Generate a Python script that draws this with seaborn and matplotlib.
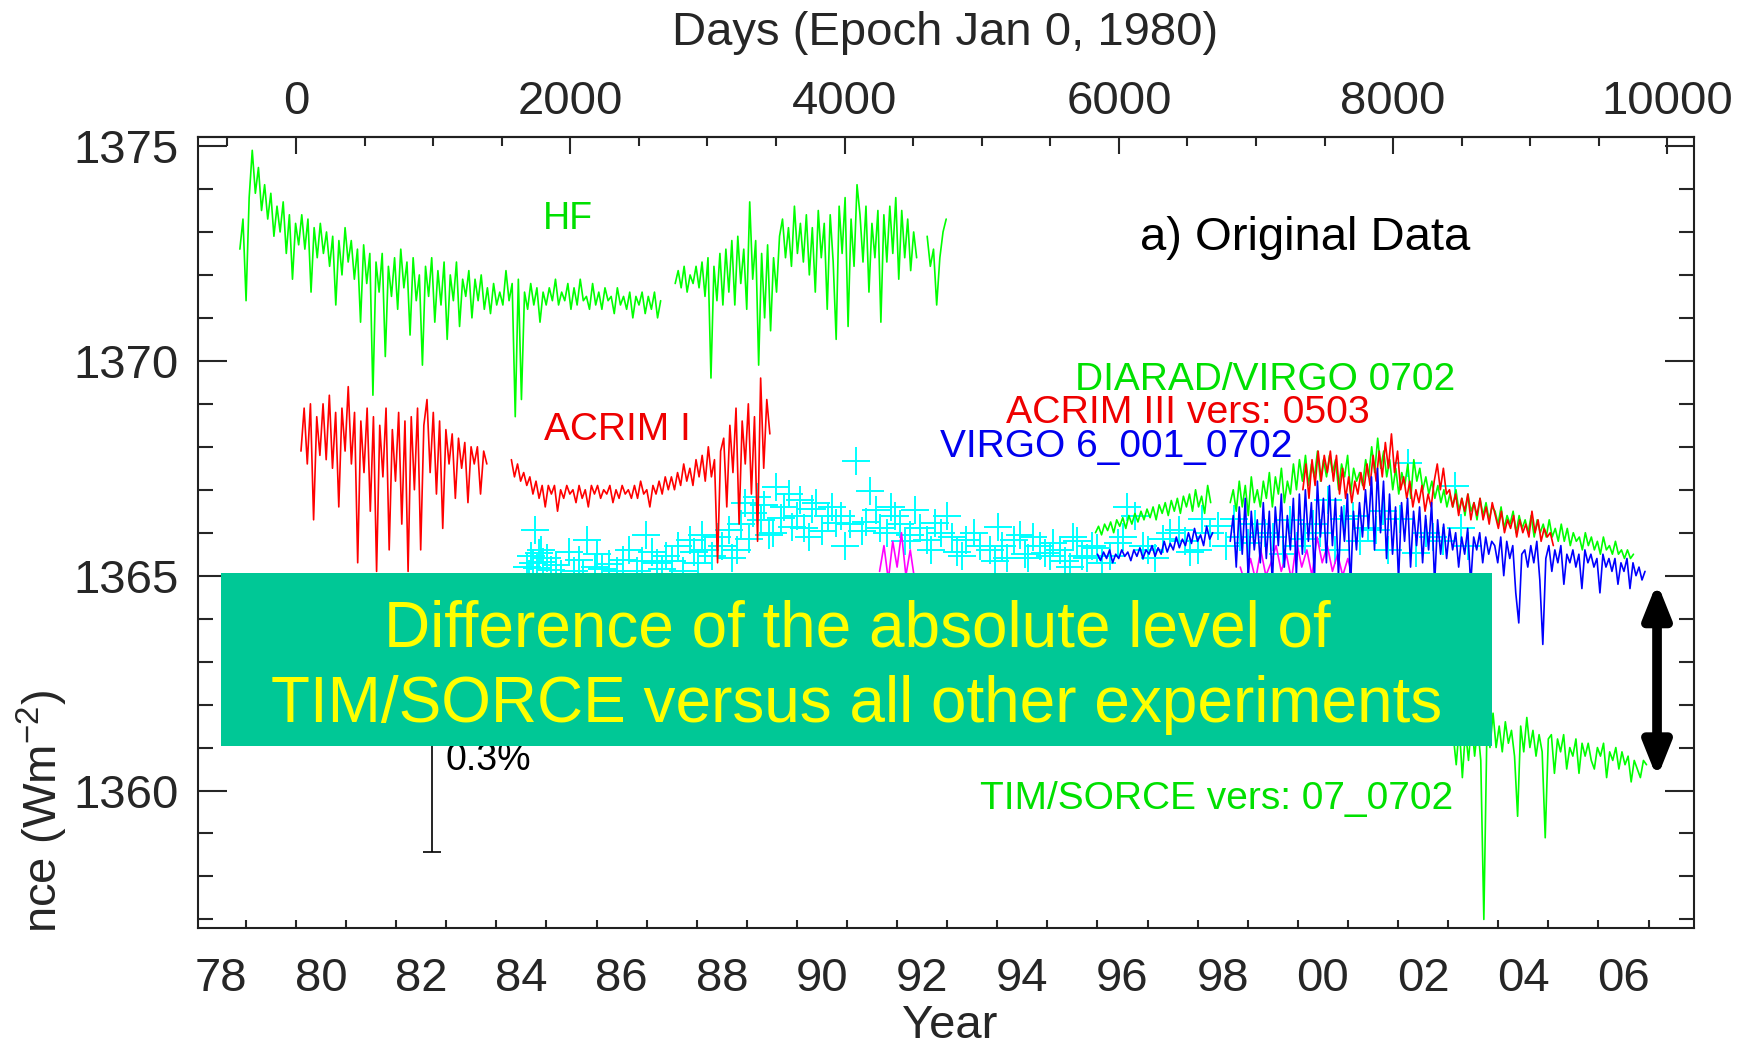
import numpy as np
import matplotlib
matplotlib.use("Agg")
import matplotlib.pyplot as plt
import seaborn as sns
from matplotlib.ticker import FixedLocator, FixedFormatter, NullFormatter
from matplotlib.patches import Rectangle

# ------------------------------------------------------------------ data
# HF (Nimbus-7) : three segments (start year, end year) and readings
hf_spans = [(1978.88, 1987.28), (1987.57, 1992.39), (1992.60, 1992.98)]
hf_seg1 = [1372.6, 1373.3, 1371.4,
           1373.8, 1374.9, 1373.9, 1374.5, 1373.5,
           1374.1, 1373.3, 1373.9, 1372.9, 1373.6,
           1373.0, 1373.7, 1372.5, 1373.4, 1371.9, 1373.2, 1372.7,
           1373.4, 1372.6, 1373.3, 1371.6, 1373.1, 1372.4, 1373.2, 1372.5,
           1373.0, 1372.2, 1372.9, 1371.3, 1372.8, 1372.0, 1373.1, 1372.3,
           1372.8, 1371.9, 1372.6, 1370.9, 1372.7, 1371.8, 1372.5, 1369.2,
           1372.3, 1371.6, 1372.5, 1370.1, 1372.2, 1371.5, 1372.4, 1371.2,
           1372.6, 1371.7, 1372.3, 1370.6, 1372.4, 1371.4, 1372.0, 1369.9,
           1372.2, 1371.5, 1372.4, 1370.9, 1372.1, 1371.3, 1372.3, 1370.5,
           1372.0, 1371.4, 1372.3, 1370.8, 1371.9, 1371.5, 1372.1, 1371.0,
           1371.9, 1371.4, 1372.0, 1371.2, 1371.7, 1371.1, 1371.8, 1371.3,
           1371.6, 1371.3, 1372.1, 1371.4, 1371.8, 1368.7, 1371.9, 1369.1,
           1371.6, 1371.2, 1371.8, 1371.3, 1371.7, 1370.9, 1371.6, 1371.3,
           1371.7, 1371.4, 1371.9, 1371.3, 1371.6, 1371.4, 1371.8, 1371.2,
           1371.7, 1371.3, 1371.9, 1371.4, 1371.5, 1371.2, 1371.8, 1371.3,
           1371.6, 1371.2, 1371.7, 1371.4, 1371.5, 1371.1, 1371.7, 1371.3,
           1371.5, 1371.2, 1371.6, 1371.0, 1371.5, 1371.3, 1371.6, 1371.1,
           1371.5, 1371.2, 1371.6, 1371.0, 1371.4]
hf_seg2 = [1371.8, 1372.1, 1371.7, 1372.2, 1371.6, 1372.0, 1371.8, 1372.2, 1371.7,
           1372.3, 1371.5, 1372.4, 1369.6, 1372.2, 1371.4, 1372.5, 1371.3, 1372.6, 1371.6,
           1372.8, 1371.3, 1372.9, 1371.8, 1372.6, 1371.2, 1373.7, 1371.9, 1372.8, 1369.9,
           1372.5, 1371.0, 1372.7, 1370.7, 1372.4, 1371.6, 1372.9,
           1373.3, 1372.4, 1373.1, 1372.2, 1373.6, 1372.5, 1373.2, 1372.3, 1373.4, 1372.0, 1373.1, 1371.6,
           1373.5, 1372.4, 1373.2, 1371.2, 1373.4, 1372.3, 1370.5,
           1373.6, 1372.5, 1373.8, 1370.8, 1373.3, 1372.2, 1374.1,
           1373.4, 1372.3, 1373.6, 1371.6, 1373.2, 1372.4, 1373.5, 1370.9,
           1373.4, 1372.3, 1373.6, 1372.5, 1373.8, 1371.9, 1373.5, 1372.4, 1373.3, 1372.1, 1373.0, 1372.4]
hf_seg3 = [1372.9, 1372.2, 1372.6, 1371.3, 1372.4, 1373.0, 1373.3]

# ACRIM I (SMM)
acrim1_spans = [(1980.10, 1983.81), (1984.30, 1989.46)]
acrim1_seg1 = [1367.9, 1368.9, 1367.6, 1369.0, 1366.3, 1368.7, 1367.8,
               1369.0, 1367.7, 1369.2, 1367.5, 1368.8, 1366.6, 1368.9, 1367.9,
               1369.4, 1367.6, 1368.8, 1365.3, 1368.6, 1367.4, 1368.9, 1366.5,
               1368.7, 1365.1, 1368.5, 1367.3, 1368.9, 1365.6, 1368.4, 1367.2,
               1368.8, 1366.2, 1368.6, 1365.1, 1368.7, 1367.0, 1368.9, 1365.6,
               1368.5, 1369.1, 1367.4, 1368.8, 1366.9, 1368.6, 1366.1, 1368.4,
               1367.6, 1368.3, 1366.8, 1368.2, 1367.5, 1368.1, 1366.7, 1368.0,
               1367.6, 1368.0, 1366.9, 1367.9, 1367.6]
acrim1_seg2 = [1367.7, 1367.3, 1367.6, 1367.2, 1367.4, 1367.1,
               1367.3, 1366.9, 1367.2, 1366.8, 1367.1, 1366.6, 1367.1, 1366.9,
               1367.1, 1366.5, 1367.0, 1366.8, 1367.1, 1366.9, 1367.0, 1366.7, 1367.1, 1366.8, 1367.0, 1366.6, 1367.1,
               1366.9, 1367.1, 1366.8, 1367.0, 1366.9, 1367.1, 1366.7, 1367.0, 1366.8, 1367.1, 1366.9, 1367.0, 1366.8,
               1367.1, 1366.8, 1367.2, 1366.9, 1367.0, 1366.6, 1367.1, 1366.9, 1367.2, 1366.9, 1367.3, 1367.0,
               1367.3, 1367.0, 1367.4, 1367.1, 1367.6, 1367.2, 1367.5, 1367.1, 1367.7, 1367.3,
               1367.8, 1367.2, 1368.0, 1367.3, 1367.7, 1365.3, 1367.9,
               1368.2, 1366.6, 1368.5, 1367.4, 1368.9, 1366.2, 1368.6, 1367.6,
               1369.0, 1366.9, 1368.7, 1365.8, 1369.6, 1367.5, 1369.1, 1368.3]

# ERBS (crosses)
erbs_year = [1984.62, 1984.70, 1984.78, 1984.82, 1984.86, 1984.94, 1985.10, 1985.30, 1985.65, 1985.81,
             1985.96, 1986.10, 1986.52, 1986.80, 1986.99, 1987.20, 1987.38, 1987.62, 1987.86, 1988.02,
             1988.17, 1988.41, 1988.65, 1988.80, 1988.96, 1989.05, 1989.20, 1989.28, 1989.45, 1989.59,
             1989.75, 1989.91, 1990.07, 1990.25, 1990.38, 1990.62, 1990.78, 1990.95, 1991.17, 1991.30,
             1991.45, 1991.57, 1991.80, 1991.96, 1992.15, 1992.35, 1992.59, 1992.75, 1992.99, 1993.20,
             1993.38, 1993.54, 1993.85, 1994.01, 1994.20, 1994.33, 1994.55, 1994.72, 1994.96, 1995.12,
             1995.35, 1995.51, 1995.70, 1995.90, 1996.10, 1996.40, 1996.59, 1996.75, 1997.00, 1997.30,
             1997.62, 1997.85, 1998.09, 1998.41, 1998.56, 1998.72, 1999.00, 1999.35, 1999.70, 1999.98,
             2000.30, 2000.60, 2000.93, 2001.25, 2001.56, 2001.80, 2002.03, 2002.19, 2002.35, 2002.70,
             2003.14, 2003.40]
erbs_value = [1365.20, 1365.45, 1366.07, 1365.18, 1365.52, 1365.33, 1365.14, 1365.05, 1365.37, 1365.83,
              1365.21, 1365.15, 1365.37, 1365.10, 1365.95, 1365.30, 1365.45, 1365.68, 1365.83, 1365.29,
              1365.60, 1365.91, 1366.07, 1365.60, 1366.69, 1365.85, 1366.84, 1366.30, 1365.95, 1367.07,
              1366.61, 1366.14, 1366.76, 1365.90, 1366.69, 1366.38, 1366.22, 1365.70, 1367.66, 1366.05,
              1366.96, 1366.53, 1365.99, 1366.38, 1365.80, 1366.53, 1365.83, 1366.22, 1366.38, 1365.55,
              1365.83, 1365.99, 1365.60, 1366.14, 1365.40, 1365.83, 1365.50, 1365.91, 1365.52, 1365.76,
              1365.35, 1365.91, 1365.45, 1365.68, 1365.30, 1365.75, 1366.61, 1366.38, 1365.60, 1365.85,
              1366.07, 1365.55, 1366.31, 1366.15, 1365.69, 1366.31, 1365.75, 1366.00, 1365.50, 1365.69,
              1366.20, 1366.77, 1366.31, 1365.80, 1366.07, 1365.60, 1366.31, 1367.62, 1365.53, 1365.90,
              1367.08, 1365.70]
erbs_more_year = [1984.66, 1984.74, 1984.90, 1985.02, 1985.20, 1985.45, 1985.55, 1985.72, 1986.00, 1986.25,
                  1986.40, 1986.65, 1986.90, 1987.10, 1987.30, 1987.50, 1987.72, 1987.95, 1988.10, 1988.30,
                  1988.50, 1988.70, 1988.88, 1989.12, 1989.35, 1989.52, 1989.68, 1989.85, 1990.00, 1990.15,
                  1990.30, 1990.50, 1990.70, 1990.88, 1991.05, 1991.38, 1991.65, 1991.88, 1992.05, 1992.25,
                  1992.45, 1992.68, 1992.88, 1993.10, 1993.30, 1993.65, 1993.95, 1994.10, 1994.45, 1994.62,
                  1994.85, 1995.05, 1995.25, 1995.45, 1995.60, 1995.80, 1996.00, 1996.25, 1996.50, 1996.90,
                  1997.15, 1997.45, 1997.75, 1998.00, 1998.25, 1998.85, 1999.15, 1999.50, 1999.85, 2000.15,
                  2000.45, 2000.75, 2001.10, 2001.40, 2001.70, 2002.55, 2002.90, 2003.25]
erbs_more_value = [1365.05, 1365.30, 1365.60, 1365.40, 1365.25, 1365.55, 1365.12, 1365.05, 1365.50, 1365.28,
                   1365.10, 1365.60, 1365.35, 1365.55, 1365.15, 1365.35, 1365.10, 1365.55, 1365.95, 1365.45,
                   1365.70, 1365.40, 1366.20, 1366.45, 1366.65, 1366.00, 1366.35, 1366.90, 1366.40, 1366.10,
                   1366.55, 1366.05, 1366.60, 1366.40, 1366.20, 1366.25, 1366.10, 1366.60, 1366.20, 1365.95,
                   1366.10, 1365.60, 1366.00, 1365.90, 1365.45, 1365.70, 1365.35, 1365.70, 1365.95, 1365.40,
                   1365.70, 1365.45, 1365.60, 1365.20, 1365.80, 1365.40, 1365.65, 1365.45, 1365.90, 1365.70,
                   1365.40, 1366.00, 1365.80, 1365.60, 1366.00, 1365.90, 1366.20, 1365.90, 1366.30, 1365.85,
                   1366.00, 1365.60, 1366.40, 1366.10, 1366.50, 1366.00, 1365.80, 1366.10]

# ACRIM II (magenta) - parts visible above the box
acrim2_spans = [(1991.65, 1992.35), (1998.85, 2001.10)]
acrim2_seg1 = [1365.1, 1365.7, 1364.9, 1365.8, 1365.2, 1366.0, 1365.0, 1365.6, 1364.9]
acrim2_seg2 = [1365.2, 1364.8, 1365.4, 1364.9, 1365.6, 1365.0, 1365.3, 1365.7, 1365.1, 1365.5, 1364.9,
               1365.8, 1365.2, 1365.6, 1365.0, 1365.9, 1365.3, 1365.7, 1365.1, 1365.5, 1365.0, 1365.4, 1364.9]

# DIARAD/VIRGO 0702
diarad_spans = [(1995.96, 1998.26), (1998.65, 2006.70)]
diarad_seg1 = [1366.0, 1366.15, 1365.95, 1366.2, 1366.05, 1366.25, 1366.0, 1366.3, 1366.15, 1366.35,
               1366.1, 1366.4, 1366.2, 1366.45, 1366.25, 1366.5, 1366.3, 1366.55, 1366.35, 1366.6,
               1366.3, 1366.65, 1366.45, 1366.7, 1366.4, 1366.75, 1366.5, 1366.8, 1366.45, 1366.85,
               1366.6, 1366.9, 1366.5, 1367.0, 1366.6, 1366.85, 1366.45, 1367.1, 1366.7]
diarad_seg2 = [1366.7, 1367.0, 1366.5, 1367.2, 1366.6, 1367.1, 1366.4, 1367.3, 1366.7, 1367.0, 1366.6,
               1367.2, 1366.8, 1367.4, 1366.6, 1367.3, 1366.9, 1367.5, 1366.7, 1367.2, 1366.9, 1367.6, 1367.0,
               1367.7, 1367.2, 1367.8, 1367.1, 1367.6, 1367.3, 1367.9, 1367.2, 1367.7, 1367.3,
               1367.8, 1367.4, 1367.7, 1367.0, 1367.6, 1367.3, 1367.8, 1366.9, 1367.5, 1367.2,
               1367.4, 1367.1, 1367.7, 1367.3, 1368.0, 1367.4, 1368.2, 1367.5, 1367.9, 1367.3,
               1367.7, 1367.0, 1367.5, 1366.9, 1367.4, 1367.1, 1367.6, 1366.8, 1367.7, 1367.2,
               1367.5, 1367.0, 1367.3, 1366.9, 1367.2, 1366.8, 1367.1, 1366.7, 1367.0, 1366.6,
               1366.9, 1366.6, 1367.0, 1366.5, 1366.8, 1366.4, 1366.9, 1366.5, 1366.7, 1366.3, 1366.8, 1366.4, 1366.7, 1366.3, 1366.6,
               1366.5, 1366.2, 1366.6, 1366.1, 1366.4, 1366.2, 1366.5, 1366.0, 1366.4, 1366.1,
               1366.3, 1366.0, 1366.4, 1365.9, 1366.3, 1366.0, 1366.2, 1365.9, 1366.3, 1365.9,
               1366.1, 1365.8, 1366.2, 1365.8, 1366.1, 1365.7, 1366.0, 1365.8, 1365.9, 1365.6, 1366.0, 1365.7, 1365.9, 1365.6,
               1365.8, 1365.5, 1365.9, 1365.6, 1365.7, 1365.5, 1365.8, 1365.5, 1365.6, 1365.4, 1365.6, 1365.4, 1365.5]

# ACRIM III vers: 0503
acrim3_spans = [(2000.10, 2005.10)]
acrim3_seg1 = [1367.0, 1367.6, 1366.8, 1367.7, 1367.1, 1367.9, 1367.2, 1367.8,
               1367.4, 1367.9, 1367.2, 1367.8, 1366.9, 1367.5, 1366.8, 1367.3, 1366.7, 1367.2,
               1366.9, 1367.4, 1367.0, 1367.6, 1367.1, 1367.8, 1367.2,
               1367.9, 1367.3, 1368.1, 1367.5, 1368.3, 1367.4, 1367.9, 1367.0,
               1367.3, 1366.8, 1367.2, 1366.6, 1367.0, 1366.7, 1367.1, 1366.5, 1366.9, 1366.6,
               1367.2, 1367.6, 1367.0, 1367.5, 1366.9,
               1367.0, 1366.6, 1366.9, 1366.4, 1366.8, 1366.5, 1366.9, 1366.3, 1366.7, 1366.4, 1366.8, 1366.3, 1366.6, 1366.2, 1366.7,
               1366.4, 1366.1, 1366.5, 1366.0, 1366.3, 1366.1, 1366.4, 1365.9, 1366.3, 1366.0,
               1366.2, 1365.9, 1366.5, 1366.0, 1366.3, 1365.8, 1366.1, 1365.9, 1366.0, 1365.7]

# VIRGO 6_001_0702
virgo_spans = [(1996.00, 1998.30), (1998.65, 2006.93)]
virgo_seg1 = [1365.5, 1365.35, 1365.55, 1365.4, 1365.6, 1365.3, 1365.5, 1365.4, 1365.6, 1365.45,
              1365.55, 1365.35, 1365.6, 1365.45, 1365.65, 1365.4, 1365.6, 1365.5, 1365.7, 1365.45,
              1365.65, 1365.5, 1365.8, 1365.55, 1365.75, 1365.6, 1365.9, 1365.65, 1365.85, 1365.7,
              1366.0, 1365.75, 1366.1, 1365.8, 1365.95, 1365.7, 1366.15, 1365.85, 1366.0]
virgo_seg2 = [1365.8, 1366.4, 1365.2, 1366.6, 1365.5, 1366.8, 1364.9, 1366.5, 1365.6, 1366.3, 1365.3,
              1366.7, 1365.4, 1366.5, 1364.8, 1366.6, 1365.7, 1366.9, 1365.2, 1366.4, 1365.6, 1366.8, 1365.0,
              1366.9, 1365.5, 1367.0, 1365.8, 1366.7, 1364.9, 1367.2, 1365.9, 1366.8, 1365.3,
              1367.1, 1365.7, 1366.8, 1365.0, 1366.6, 1365.8, 1366.9, 1364.7, 1366.5, 1365.6,
              1366.7, 1365.9, 1367.0, 1366.1, 1367.3, 1365.6, 1367.5, 1366.0, 1367.2, 1365.4,
              1366.9, 1365.5, 1366.6, 1364.9, 1366.7, 1365.8, 1366.8, 1365.2, 1366.5, 1365.7,
              1366.6, 1365.3, 1366.4, 1365.6, 1366.7, 1364.8, 1366.3, 1365.5, 1366.2, 1365.4,
              1366.1, 1365.6, 1366.0, 1365.2, 1365.9, 1365.5, 1366.1, 1364.8, 1365.9, 1365.6, 1366.0, 1365.3, 1365.9, 1365.5, 1365.8,
              1365.7, 1365.3, 1365.9, 1365.0, 1365.8, 1365.4, 1365.7, 1364.6, 1363.9, 1365.5,
              1365.6, 1365.2, 1365.7, 1365.3, 1365.8, 1364.9, 1363.4, 1365.4, 1365.7, 1365.1,
              1365.6, 1365.3, 1365.7, 1364.8, 1365.5, 1365.3, 1365.6, 1365.2, 1365.5, 1364.7, 1365.6, 1365.3, 1365.5, 1365.2,
              1365.4, 1364.6, 1365.5, 1365.2, 1365.4, 1365.1, 1365.4, 1364.8, 1365.3, 1365.1, 1365.4, 1364.7, 1365.3, 1365.0,
              1365.2, 1364.9, 1365.1]

# TIM/SORCE vers: 07_0702
tim_spans = [(2003.10, 2006.96)]
tim_seg1 = [1361.3, 1360.6, 1361.5, 1360.3, 1361.4, 1360.7, 1361.6, 1360.8, 1361.5, 1360.7, 1357.0, 1361.4, 1361.0,
            1361.8, 1361.0, 1361.5, 1360.9, 1361.6, 1361.1, 1361.4, 1360.8, 1359.4,
            1361.5, 1360.9, 1361.7, 1361.0, 1361.4, 1360.8, 1361.3, 1360.9, 1358.9, 1361.2, 1361.3,
            1360.4, 1361.2, 1360.9, 1361.3, 1360.5, 1361.0, 1360.8, 1361.2, 1360.4, 1361.1, 1360.8,
            1361.1, 1360.7, 1360.5, 1361.0, 1360.8, 1361.1, 1360.3, 1360.9, 1360.7, 1361.0, 1360.5,
            1360.9, 1360.6, 1360.8, 1360.2, 1360.7, 1360.5, 1360.3, 1360.7, 1360.6]

# scale bar (0.3 % of the solar constant)
scale_year = 1982.71
scale_bottom = 1358.58
scale_fraction = 0.003
scale_reference = 1365.0

# offset arrow between TIM and the other instruments
arrow_year = 2007.17
arrow_top = 1364.84
arrow_bottom = 1360.29

# axes / ticks
year_range = (1978.05, 2007.90)
irr_range = (1356.80, 1375.21)
irr_major = [1360, 1365, 1370, 1375]
irr_minor = list(range(1357, 1375))
year_ticks = list(range(1979, 2008))
year_label_pos = [1978.5, 1980.5, 1982.5, 1984.5, 1986.5, 1988.5, 1990.5, 1992.5,
                  1994.5, 1996.5, 1998.5, 2000.5, 2002.5, 2004.5, 2006.5]
year_labels = ["78", "80", "82", "84", "86", "88", "90", "92", "94", "96", "98", "00", "02", "04", "06"]
day_major = [0, 2000, 4000, 6000, 8000, 10000]
day_minor = list(range(-500, 10001, 500))
DAYS_PER_YEAR = 365.25
EPOCH_YEAR = 1980.0

# ------------------------------------------------------------------ style
sns.set_style("white")
plt.rcParams["font.family"] = ["Liberation Sans", "DejaVu Sans"]
plt.rcParams["mathtext.fontset"] = "custom"
plt.rcParams["mathtext.rm"] = "Liberation Sans"
plt.rcParams["mathtext.it"] = "Liberation Sans:italic"
plt.rcParams["mathtext.bf"] = "Liberation Sans:bold"

W, H = 1747, 1049
fig = plt.figure(figsize=(W / 100, H / 100), dpi=100, facecolor="white")
ax = fig.add_axes([198.3 / W, 1 - 928 / H, (1693.6 - 198.3) / W, (928 - 137) / H])
ax.set_facecolor("white")

GREEN, RED, BLUE, CYAN, MAGENTA = "#00FF00", "#FF0000", "#0000FF", "#00FFFF", "#FF00FF"


def draw(spans, segs, color, lw=1.2, z=3):
    for (a, b), vals in zip(spans, segs):
        xs = np.linspace(a, b, len(vals))
        sns.lineplot(x=xs, y=vals, color=color, linewidth=lw, ax=ax,
                     estimator=None, sort=False, legend=False, zorder=z)


sns.scatterplot(x=erbs_year + erbs_more_year, y=erbs_value + erbs_more_value, marker="+", s=380,
                color=CYAN, linewidth=1.4, ax=ax, legend=False, zorder=2)
draw(hf_spans, [hf_seg1, hf_seg2, hf_seg3], GREEN, z=3)
draw(acrim1_spans, [acrim1_seg1, acrim1_seg2], RED, z=3)
draw(acrim2_spans, [acrim2_seg1, acrim2_seg2], MAGENTA, z=3)
draw(diarad_spans, [diarad_seg1, diarad_seg2], GREEN, z=4)
draw(acrim3_spans, [acrim3_seg1], RED, z=5)
draw(virgo_spans, [virgo_seg1, virgo_seg2], BLUE, z=6)
draw(tim_spans, [tim_seg1], GREEN, z=4)

# scale bar
scale_top = scale_bottom + scale_fraction * scale_reference
ax.errorbar([scale_year], [(scale_top + scale_bottom) / 2], yerr=[(scale_top - scale_bottom) / 2],
            fmt="none", ecolor="black", elinewidth=1.2, capsize=6.5, capthick=1.2, zorder=7)
ax.text(scale_year + 0.28, 1360.72, "0.3%", fontsize=27, color="black", va="center", ha="left")

# series labels
ax.text(1985.43, 1373.30, "HF", color="#00E000", fontsize=27, ha="center", va="center")
ax.text(1986.41, 1368.40, "ACRIM I", color="#EE0000", fontsize=28, ha="center", va="center")
ax.text(2000.15, 1372.86, "a) Original Data", color="black", fontsize=34, ha="center", va="center")
ax.text(1999.35, 1369.56, "DIARAD/VIRGO 0702", color="#00E000", fontsize=28, ha="center", va="center")
ax.text(1997.80, 1368.78, "ACRIM III vers: 0503", color="#EE0000", fontsize=28.3, ha="center", va="center")
ax.text(1996.37, 1368.00, "VIRGO 6_001_0702", color="#0000EE", fontsize=28, ha="center", va="center")
ax.text(1998.37, 1359.80, "TIM/SORCE vers: 07_0702", color="#00E000", fontsize=28, ha="center", va="center")

# highlighted box
ax.add_patch(Rectangle((221 / W, 1 - 746 / H), (1492 - 221) / W, (746 - 573) / H,
                       transform=fig.transFigure, facecolor="#00C896", edgecolor="none",
                       zorder=20, clip_on=False))
ax.text(857 / W, 1 - 667 / H,
        "Difference of the absolute level of\nTIM/SORCE versus all other experiments",
        transform=fig.transFigure, color="#FFFF00", fontsize=46, ha="center", va="center",
        multialignment="center", linespacing=1.33, zorder=21)

# double arrow
ax.annotate("", xy=(arrow_year, arrow_top), xytext=(arrow_year, arrow_bottom),
            arrowprops=dict(arrowstyle="<|-|>,head_length=2.0,head_width=0.8", color="black",
                            lw=7, shrinkA=0, shrinkB=0, mutation_scale=10), zorder=22)

# axes limits and ticks
ax.set_xlim(*year_range)
ax.set_ylim(*irr_range)
ax.set_xlabel("")
ax.set_ylabel("")
for s in ax.spines.values():
    s.set_linewidth(1.5)
    s.set_color("#202020")

ax.yaxis.set_major_locator(FixedLocator(irr_major))
ax.yaxis.set_minor_locator(FixedLocator(irr_minor))
ax.yaxis.set_minor_formatter(NullFormatter())
ax.set_yticklabels([str(v) for v in irr_major])
ax.tick_params(axis="y", which="major", direction="in", length=21, width=1.5,
               left=True, right=True, labelsize=34, pad=14)
ax.tick_params(axis="y", which="minor", direction="in", length=11, width=1.5, left=True, right=True)

ax.xaxis.set_major_locator(FixedLocator(year_ticks))
ax.xaxis.set_major_formatter(NullFormatter())
ax.xaxis.set_minor_locator(FixedLocator(year_label_pos))
ax.xaxis.set_minor_formatter(FixedFormatter(year_labels))
ax.tick_params(axis="x", which="major", direction="in", length=6, width=1.5, bottom=True, top=False)
ax.tick_params(axis="x", which="minor", direction="in", length=0, bottom=True, top=False,
               labelsize=34, pad=21)

secax = ax.secondary_xaxis("top", functions=(lambda y: (y - EPOCH_YEAR) * DAYS_PER_YEAR,
                                             lambda d: d / DAYS_PER_YEAR + EPOCH_YEAR))
secax.xaxis.set_major_locator(FixedLocator(day_major))
secax.xaxis.set_minor_locator(FixedLocator(day_minor))
secax.xaxis.set_major_formatter(FixedFormatter([str(d) for d in day_major]))
secax.xaxis.set_minor_formatter(NullFormatter())
secax.tick_params(which="major", direction="in", length=12, width=1.5, labelsize=34, pad=9)
secax.tick_params(which="minor", direction="in", length=6.5, width=1.5)
secax.spines["top"].set_linewidth(1.5)

# axis titles
fig.text(945 / W, 1 - 33 / H, "Days (Epoch Jan 0, 1980)", fontsize=34, ha="center", va="center")
fig.text(950 / W, 1 - 1026 / H, "Year", fontsize=34, ha="center", va="center")
fig.text(42 / W, 1 - 690 / H, "nce (Wm$^{\\mathregular{-2}}$)", fontsize=34,
         rotation=90, ha="center", va="top")

fig.savefig("out.png", dpi=100, facecolor="white")
